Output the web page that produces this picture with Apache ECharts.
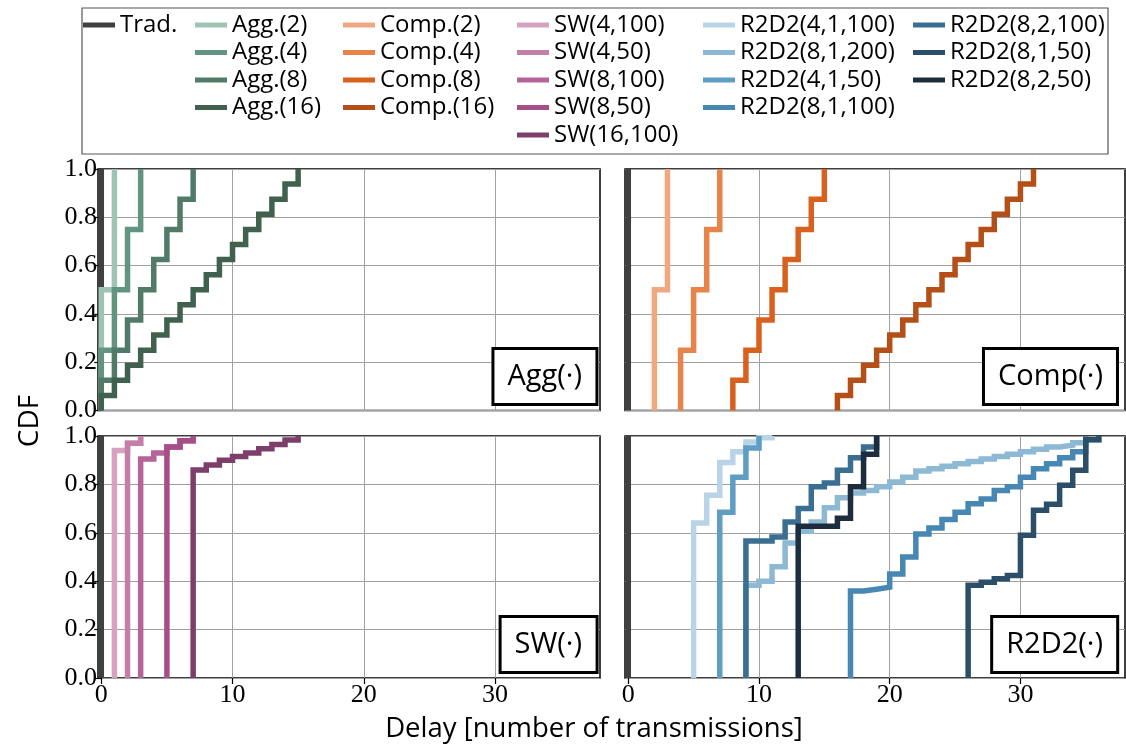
<!DOCTYPE html>
<html>
<head>
<meta charset="utf-8">
<title>CDF of delay</title>
<script src="https://cdn.jsdelivr.net/npm/echarts@6/dist/echarts.min.js"></script>
<style>
html, body { margin: 0; padding: 0; background: #fff; }
#main { width: 1126px; height: 744px; }
</style>
</head>
<body>
<div id="main"></div>
<script>
// tick values
var xTicks = [0, 10, 20, 30];

// Trad.
var tradX = [0];
var tradF = [1];

// Agg(.)
var agg2X = [0, 1];
var agg2F = [0.5, 1];
var agg4X = [0, 1, 2, 3];
var agg4F = [0.25, 0.5, 0.75, 1];
var agg8X = [0, 1, 2, 3, 4, 5, 6, 7];
var agg8F = [0.125, 0.25, 0.375, 0.5, 0.625, 0.75, 0.875, 1];
var agg16X = [0, 1, 2, 3, 4, 5, 6, 7, 8, 9, 10, 11, 12, 13, 14, 15];
var agg16F = [0.0625, 0.125, 0.1875, 0.25, 0.3125, 0.375, 0.4375, 0.5, 0.5625, 0.625, 0.6875, 0.75, 0.8125, 0.875, 0.9375, 1];

// Comp(.)
var comp2X = [2, 3];
var comp2F = [0.5, 1];
var comp4X = [4, 5, 6, 7];
var comp4F = [0.25, 0.5, 0.75, 1];
var comp8X = [8, 9, 10, 11, 12, 13, 14, 15];
var comp8F = [0.125, 0.25, 0.375, 0.5, 0.625, 0.75, 0.875, 1];
var comp16X = [16, 17, 18, 19, 20, 21, 22, 23, 24, 25, 26, 27, 28, 29, 30, 31];
var comp16F = [0.0625, 0.125, 0.1875, 0.25, 0.3125, 0.375, 0.4375, 0.5, 0.5625, 0.625, 0.6875, 0.75, 0.8125, 0.875, 0.9375, 1];

// SW(.)
var sw4_100X = [1, 2, 3];
var sw4_100F = [0.94, 0.97, 1];
var sw4_50X = [2, 3];
var sw4_50F = [0.97, 1];
var sw8_100X = [3, 4, 5, 6, 7];
var sw8_100F = [0.905, 0.93, 0.955, 0.98, 1];
var sw8_50X = [5, 6, 7];
var sw8_50F = [0.955, 0.98, 1];
var sw16_100X = [7, 8, 9, 10, 11, 12, 13, 14, 15];
var sw16_100F = [0.86, 0.88, 0.9, 0.915, 0.93, 0.947, 0.965, 0.983, 1];

// R2D2(.)
var r4_1_100X = [5, 6, 7, 8, 9, 10, 11];
var r4_1_100F = [0.64, 0.755, 0.89, 0.935, 0.975, 0.993, 1];
var r8_1_200X = [9, 10, 11, 12, 13, 14, 15, 16, 17, 18, 19, 20, 21, 22, 23, 24, 25, 26, 27, 28, 29, 30, 31, 32, 33, 34, 35, 36];
var r8_1_200F = [0.383, 0.4, 0.46, 0.558, 0.606, 0.645, 0.704, 0.745, 0.764, 0.775, 0.79, 0.81, 0.83, 0.855, 0.865, 0.875, 0.885, 0.895, 0.905, 0.915, 0.925, 0.935, 0.945, 0.955, 0.962, 0.972, 0.985, 1];
var r4_1_50X = [7, 8, 9, 10];
var r4_1_50F = [0.685, 0.83, 0.95, 1];
var r8_1_100X = [17, 18, 19, 20, 21, 22, 23, 24, 25, 26, 27, 28, 29, 30, 31, 32, 33, 34, 35];
var r8_1_100F = [0.36, 0.367, 0.375, 0.43, 0.5, 0.595, 0.62, 0.655, 0.685, 0.72, 0.74, 0.775, 0.79, 0.83, 0.865, 0.885, 0.91, 0.935, 1];
var r8_2_100X = [9, 11, 12, 13, 14, 15, 16, 17, 18, 19];
var r8_2_100F = [0.566, 0.583, 0.645, 0.7, 0.79, 0.806, 0.858, 0.91, 0.955, 1];
var r8_1_50X = [26, 27, 28, 29, 30, 31, 32, 33, 34, 35, 36];
var r8_1_50F = [0.383, 0.396, 0.41, 0.424, 0.59, 0.693, 0.718, 0.796, 0.858, 0.985, 1];
var r8_2_50X = [13, 16, 17, 18, 19];
var r8_2_50F = [0.627, 0.66, 0.79, 0.925, 1];

var sans = 'Open Sans';
var serif = 'Liberation Serif';

// name, xs, cdf, colour, panel
var curves = [
	['Trad.', tradX, tradF, '#404040', 0],
	['Trad.', tradX, tradF, '#404040', 1],
	['Trad.', tradX, tradF, '#404040', 2],
	['Trad.', tradX, tradF, '#404040', 3],
	['Agg.(2)', agg2X, agg2F, '#a0c4b4', 0],
	['Agg.(4)', agg4X, agg4F, '#62957f', 0],
	['Agg.(8)', agg8X, agg8F, '#527a69', 0],
	['Agg.(16)', agg16X, agg16F, '#41614f', 0],
	['Comp.(2)', comp2X, comp2F, '#f0a880', 1],
	['Comp.(4)', comp4X, comp4F, '#e8834a', 1],
	['Comp.(8)', comp8X, comp8F, '#d9611e', 1],
	['Comp.(16)', comp16X, comp16F, '#b34f17', 1],
	['SW(4,100)', sw4_100X, sw4_100F, '#d6a2c0', 2],
	['SW(4,50)', sw4_50X, sw4_50F, '#c47ea8', 2],
	['SW(8,100)', sw8_100X, sw8_100F, '#b66498', 2],
	['SW(8,50)', sw8_50X, sw8_50F, '#a54e88', 2],
	['SW(16,100)', sw16_100X, sw16_100F, '#7e3e6a', 2],
	['R2D2(4,1,100)', r4_1_100X, r4_1_100F, '#b8d4e6', 3],
	['R2D2(8,1,200)', r8_1_200X, r8_1_200F, '#8db9d4', 3],
	['R2D2(4,1,50)', r4_1_50X, r4_1_50F, '#5f9dc3', 3],
	['R2D2(8,1,100)', r8_1_100X, r8_1_100F, '#4787b3', 3],
	['R2D2(8,2,100)', r8_2_100X, r8_2_100F, '#3a6f92', 3],
	['R2D2(8,1,50)', r8_1_50X, r8_1_50F, '#2b4f68', 3],
	['R2D2(8,2,50)', r8_2_50X, r8_2_50F, '#1c2e3d', 3]
];

var legendCols = [
	['Trad.'],
	['Agg.(2)', 'Agg.(4)', 'Agg.(8)', 'Agg.(16)'],
	['Comp.(2)', 'Comp.(4)', 'Comp.(8)', 'Comp.(16)'],
	['SW(4,100)', 'SW(4,50)', 'SW(8,100)', 'SW(8,50)', 'SW(16,100)'],
	['R2D2(4,1,100)', 'R2D2(8,1,200)', 'R2D2(4,1,50)', 'R2D2(8,1,100)'],
	['R2D2(8,2,100)', 'R2D2(8,1,50)', 'R2D2(8,2,50)']
];
var legendLeft = [83, 195, 343, 517, 703, 913];

var panelNames = ['Agg(\u00b7)', 'Comp(\u00b7)', 'SW(\u00b7)', 'R2D2(\u00b7)'];
var grids = [
	{ left: 98, top: 169, width: 502, height: 241.5 },
	{ left: 625, top: 169, width: 500, height: 241.5 },
	{ left: 98, top: 436, width: 502, height: 242 },
	{ left: 625, top: 436, width: 500, height: 242 }
];

function cdfPoints(xs, fs) {
	var pts = [[xs[0], 0]];
	for (var i = 0; i < xs.length; i++) {
		pts.push([xs[i], fs[i]]);
	}
	return pts;
}

var chart = echarts.init(document.getElementById('main'));

var option = {
	animation: false,
	backgroundColor: '#fff',
	grid: grids.map(function (g) {
		return { left: g.left, top: g.top, width: g.width, height: g.height, show: true, borderColor: '#000', borderWidth: 1.5, backgroundColor: 'transparent' };
	}),
	xAxis: grids.map(function (g, i) {
		var bottom = i >= 2;
		return {
			type: 'value', gridIndex: i, min: -0.25, max: 38,
			axisLine: { show: false },
			axisTick: { show: bottom, customValues: xTicks, length: 6, lineStyle: { color: '#000', width: 1.2 } },
			axisLabel: { show: bottom, customValues: xTicks, fontFamily: serif, fontSize: 26, color: '#000', margin: 4 },
			splitLine: { show: true, lineStyle: { color: '#a0a0a0', width: 1 } }
		};
	}),
	yAxis: grids.map(function (g, i) {
		var left = i % 2 === 0;
		return {
			type: 'value', gridIndex: i, min: 0, max: 1, interval: 0.2,
			axisLine: { show: false },
			axisTick: { show: left, length: 7, lineStyle: { color: '#000', width: 1.2 } },
			axisLabel: { show: left, fontFamily: serif, fontSize: 26, color: '#000', margin: 1,
				formatter: function (v) { return v.toFixed(1); } },
			splitLine: { show: true, lineStyle: { color: '#a0a0a0', width: 1 } }
		};
	}),
	legend: legendCols.map(function (names, i) {
		return {
			data: names, orient: 'vertical', left: legendLeft[i], top: 13,
			itemGap: 3.5, itemWidth: 32, itemHeight: 5, icon: 'rect',
			selectedMode: false, padding: 0,
			textStyle: { fontFamily: sans, fontSize: 24, lineHeight: 24, color: '#000' }
		};
	}),
	title: panelNames.map(function (t, i) {
		return {
			text: t,
			right: i % 2 === 0 ? 529 : 8,
			bottom: i < 2 ? 339 : 71,
			padding: [14, 15],
			borderWidth: 3, borderColor: '#000', backgroundColor: '#fff',
			textStyle: { fontFamily: sans, fontSize: 29, fontWeight: 'normal', color: '#000' }
		};
	}),
	graphic: [
		{ type: 'rect', shape: { x: 82, y: 8, width: 1026, height: 146 },
			style: { fill: 'none', stroke: '#555', lineWidth: 1.2 } },
		{ type: 'text', x: 30, y: 421, rotation: Math.PI / 2,
			style: { text: 'CDF', fontFamily: sans, fontSize: 28, fill: '#000', align: 'center', verticalAlign: 'middle' } },
		{ type: 'text', x: 594, y: 729,
			style: { text: 'Delay [number of transmissions]', fontFamily: sans, fontSize: 27.5, fill: '#000', align: 'center', verticalAlign: 'middle' } }
	],
	series: curves.map(function (c) {
		return {
			name: c[0], type: 'line', step: 'end',
			xAxisIndex: c[4], yAxisIndex: c[4],
			data: cdfPoints(c[1], c[2]),
			symbol: 'none', color: c[3],
			lineStyle: { width: 5.5, color: c[3], join: 'miter', cap: 'butt' }
		};
	})
};

chart.setOption(option);
</script>
</body>
</html>
